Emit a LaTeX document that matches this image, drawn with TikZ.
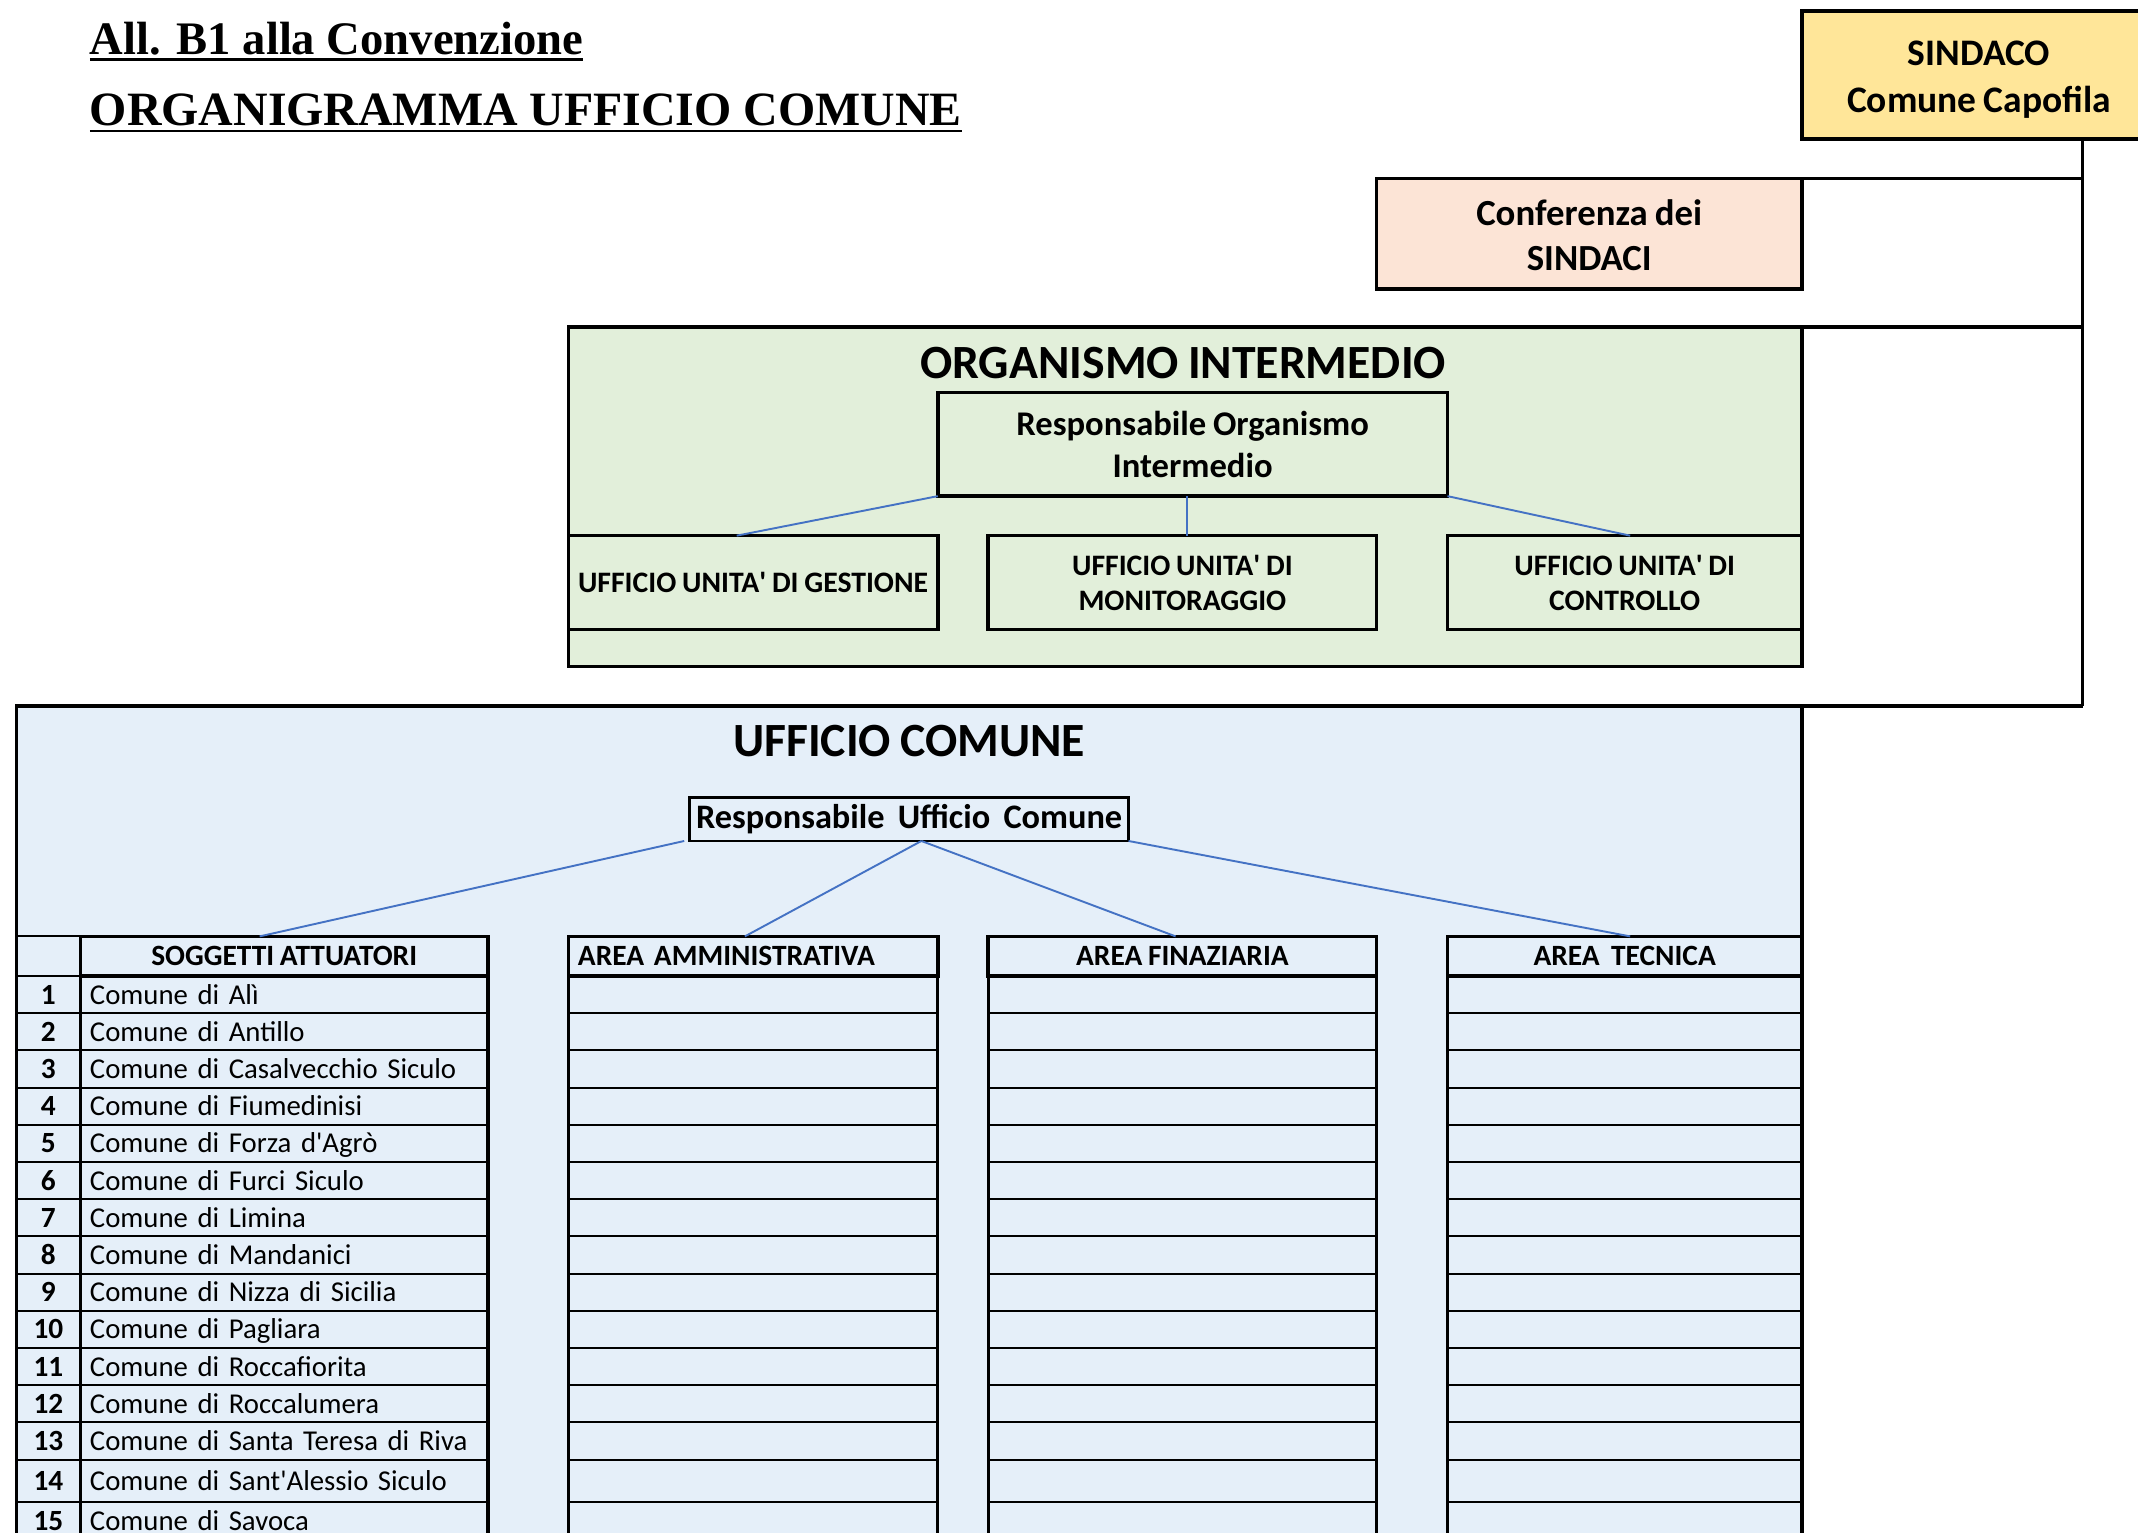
\documentclass[tikz,border=0pt]{standalone}
\usepackage{fontspec}
\setmainfont{Carlito}[WordSpace=0.85]
\newfontfamily\titlefont{Liberation Serif}
\usetikzlibrary{calc}
\definecolor{sindfill}{HTML}{FFE699}
\definecolor{conffill}{HTML}{FCE4D6}
\definecolor{oifill}{HTML}{E2EFDA}
\definecolor{ucfill}{HTML}{E5EFF9}
\definecolor{linkblue}{HTML}{4472C4}
\newcommand\ap{\textquotesingle}
\newcommand\fsz[2]{\fontsize{#1}{#2}\selectfont}
\begin{document}
\begin{tikzpicture}[x=1pt,y=-1pt,
  bx/.style={draw=black, line width=2.6pt, inner sep=0pt, outer sep=0pt, anchor=north west, align=center},
  cellthin/.style={draw=black, line width=1.4pt, inner sep=0pt, outer sep=0pt, anchor=north west},
  colframe/.style={draw=black, line width=2.4pt, inner sep=0pt, outer sep=0pt, anchor=north west},
  hdr/.style={draw=black, line width=2.6pt, inner sep=0pt, outer sep=0pt, anchor=north west, text height=16pt, text depth=3pt, font=\fsz{21.6pt}{24pt}\bfseries},
  link/.style={draw=linkblue, line width=1.4pt},
  trunk/.style={draw=black, line width=2.6pt},
  ttl/.style={inner sep=0pt, outer sep=0pt, anchor=base west, font=\titlefont\bfseries\fsz{34.2pt}{40pt}}
]
\clip (0,0) rectangle (1568.6,1124);
\fill[white] (0,0) rectangle (1568.6,1124);

% titles
\node[ttl] (t1) at (66,40) {All. B1 alla Convenzione\hspace{9pt}};
\draw[line width=1.8pt] ($(t1.base west)+(0,3.5)$) -- ($(t1.base east)+(0,3.5)$);
\node[ttl, font=\titlefont\bfseries\fsz{35.1pt}{40pt}] (t2) at (66,92) {ORGANIGRAMMA UFFICIO COMUNE};
\draw[line width=1.8pt] ($(t2.base west)+(0,4)$) -- ($(t2.base east)+(0,4)$);

% top boxes
\node[bx, fill=sindfill, minimum width=260pt, minimum height=94pt, font=\fsz{27.5pt}{34pt}\bfseries] (sind) at (1322,8) {\rule{0pt}{25pt}SINDACO\\Comune Capofila};
\node[bx, fill=conffill, minimum width=312pt, minimum height=81pt, font=\fsz{27pt}{33pt}\bfseries] (conf) at (1010,131) {\rule{0pt}{21pt}Conferenza dei\\SINDACI};

% organismo intermedio
\node[bx, fill=oifill, minimum width=905pt, minimum height=249pt] (oi) at (417,240) {};
\node[inner sep=0pt, font=\fsz{35pt}{40pt}\bfseries] (oititle) at (868,266) {ORGANISMO INTERMEDIO};
\node[bx, fill=oifill, minimum width=374pt, minimum height=76pt, font=\fsz{25.4pt}{31pt}\bfseries] (roi) at (688,288) {Responsabile Organismo\\Intermedio};
\node[bx, fill=oifill, minimum width=271pt, minimum height=69pt, font=\fsz{21.8pt}{26pt}\bfseries] (gest) at (417,393) {UFFICIO UNITA\ap{} DI GESTIONE};
\node[bx, fill=oifill, minimum width=285pt, minimum height=69pt, font=\fsz{21.8pt}{26pt}\bfseries] (mon) at (725,393) {UFFICIO UNITA\ap{} DI\\MONITORAGGIO};
\node[bx, fill=oifill, minimum width=260pt, minimum height=69pt, font=\fsz{21.8pt}{26pt}\bfseries] (ctrl) at (1062,393) {UFFICIO UNITA\ap{} DI\\CONTROLLO};
\draw[link] (roi.south west) -- ([xshift=-12pt]gest.north);
\draw[link] ([xshift=-4pt]roi.south) -- ([xshift=-4pt]roi.south |- mon.north);
\draw[link] (roi.south east) -- ([xshift=4pt]ctrl.north);

% ufficio comune
\node[bx, fill=ucfill, minimum width=1310pt, minimum height=640pt] (uc) at (12,518) {};
\node[inner sep=0pt, font=\fsz{35pt}{40pt}\bfseries] (uctitle) at (667,544) {UFFICIO COMUNE};
\node[bx, line width=1.8pt, fill=ucfill, minimum width=322pt, minimum height=32pt, font=\fsz{25.2pt}{28pt}\bfseries] (ruc) at (506,585) {Responsabile~~Ufficio~~Comune};

% trunk
\coordinate (tTop) at (1528,102);
\coordinate (tBot) at (1528,518);
\draw[trunk] (tTop) -- (tBot);
\draw[trunk] (conf.north east) -- (conf.north east -| tTop);
\draw[trunk] (oi.north east) -- (oi.north east -| tTop);
\draw[trunk] (uc.north east) -- (uc.north east -| tTop);

% table header
\node[cellthin, minimum width=47pt, minimum height=29pt] (numhdr) at (12,687) {};
\node[hdr, minimum width=299pt, minimum height=29pt] (sogg) at (59,687) {SOGGETTI ATTUATORI};
\node[hdr, minimum width=271pt, minimum height=29pt, text width=257pt, inner xsep=7pt, align=left] (amm) at (417,687) {AREA AMMINISTRATIVA};
\node[hdr, minimum width=285pt, minimum height=29pt] (fin) at (725,687) {AREA FINAZIARIA};
\node[hdr, minimum width=260pt, minimum height=29pt] (tec) at (1062,687) {AREA~~TECNICA};

% rows
\foreach \i/\t/\h/\nm in {
  1/716/27.3/{Comune di Alì},
  2/743.3/27.3/{Comune di Antillo},
  3/770.6/27.3/{Comune di Casalvecchio Siculo},
  4/797.9/27.3/{Comune di Fiumedinisi},
  5/825.2/27.3/{Comune di Forza d\ap{}Agrò},
  6/852.5/27.3/{Comune di Furci Siculo},
  7/879.8/27.3/{Comune di Limina},
  8/907.1/27.3/{Comune di Mandanici},
  9/934.4/27.3/{Comune di Nizza di Sicilia},
  10/961.7/27.3/{Comune di Pagliara},
  11/989/27.3/{Comune di Roccafiorita},
  12/1016.3/27.3/{Comune di Roccalumera},
  13/1043.6/27.3/{Comune di Santa Teresa di Riva},
  14/1070.9/31.1/{Comune di Sant\ap{}Alessio Siculo},
  15/1102/28/{Comune di Savoca}}{
  \node[cellthin, minimum width=47pt, minimum height=\h pt, text height=16pt, text depth=2pt, font=\fsz{21.5pt}{24pt}\bfseries] (num\i) at (12,\t) {\i};
  \node[cellthin, minimum width=299pt, minimum height=\h pt, text width=285pt, inner xsep=7pt, text height=16pt, text depth=2pt, align=left, font=\fsz{21.1pt}{24pt}] (nm\i) at (59,\t) {\nm};
  \node[cellthin, minimum width=271pt, minimum height=\h pt] (a\i) at (417,\t) {};
  \node[cellthin, minimum width=285pt, minimum height=\h pt] (f\i) at (725,\t) {};
  \node[cellthin, minimum width=260pt, minimum height=\h pt] (c\i) at (1062,\t) {};
}
% column frames
\node[colframe, minimum width=299pt, minimum height=440pt] (sogcol) at (59,716) {};
\node[colframe, minimum width=271pt, minimum height=440pt] (ammcol) at (417,716) {};
\node[colframe, minimum width=285pt, minimum height=440pt] (fincol) at (725,716) {};
\node[colframe, minimum width=260pt, minimum height=440pt] (teccol) at (1062,716) {};
\draw[line width=2.6pt] (uc.north west) -- (uc.south west);

% uc links
\draw[link] ([xshift=-4pt]ruc.south west) -- ([xshift=-18pt]sogg.north);
\draw[link] ([xshift=9pt]ruc.south) -- ([xshift=-6pt]amm.north);
\draw[link] ([xshift=9pt]ruc.south) -- ([xshift=-5pt]fin.north);
\draw[link] (ruc.south east) -- ([xshift=4pt]tec.north);
\end{tikzpicture}
\end{document}
